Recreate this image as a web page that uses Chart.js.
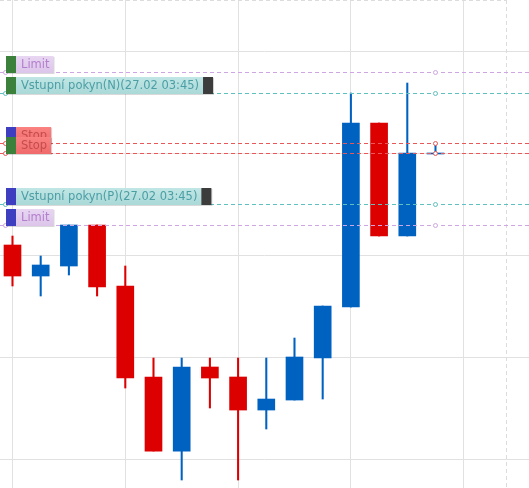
<!DOCTYPE html>
<html>
<head>
<meta charset="utf-8">
<script src="https://cdn.jsdelivr.net/npm/chart.js@4.4.1/dist/chart.umd.min.js"></script>
<style>
  html, body { margin: 0; padding: 0; background: #fff; overflow: hidden; }
  canvas { display: block; }
</style>
</head>
<body>
<canvas id="myChart" width="529" height="488"></canvas>
<script>
// candles (x = bar index)
const candles = [0, 1, 2, 3, 4, 5, 6, 7, 8, 9, 10, 11, 12, 13, 14, 15];
const opens  = [20.98, 17.94, 18.92, 22.94, 16.96, 8.04, 0.78, 9.02, 8.04, 4.80, 5.78, 9.90, 14.90, 32.94, 21.86, 30.00];
const highs  = [21.86, 19.90, 22.94, 22.94, 18.92, 9.90, 9.90, 9.90, 9.90, 9.90, 11.86, 15.00, 35.88, 32.94, 36.86, 30.88];
const lows   = [16.96, 15.98, 18.04, 15.98, 6.96, 0.78, -2.06, 5.00, -2.06, 2.94, 5.78, 5.88, 14.90, 21.86, 21.86, 30.00];
const closes = [17.94, 19.02, 22.94, 16.86, 7.94, 0.78, 9.02, 7.94, 4.80, 5.88, 10.00, 15.00, 32.94, 21.86, 30.00, 30.00];

// grid positions (no tick labels shown)
const xGridTicks = [0, 4, 8, 12, 16];
const yGridTicks = [0, 10, 20, 30, 40];

// pending orders drawn as horizontal lines
const orderLabels = ['Limit', 'Vstupní pokyn(N)(27.02 03:45)', 'Stop', 'Stop', 'Vstupní pokyn(P)(27.02 03:45)', 'Limit'];
const orderLevels = [37.94, 35.91, 30.95, 30.00, 24.97, 22.91];
const orderKinds  = ['limit', 'entry', 'stop', 'stop', 'entry', 'limit'];
const orderSides  = ['N', 'N', 'P', 'N', 'P', 'P'];

const RED = '#dc0000';
const BLUE = '#0062c0';

const kindStyle = {
  limit: { line: '#cfa6e4', bg1: '#e8d6f2', bg2: '#dcc5ea', text: '#b37fcc' },
  entry: { line: '#5ec1bf', bg1: '#c0e6e5', bg2: '#aad9d8', text: '#4c9ea5' },
  stop:  { line: '#e85858', bg1: '#fa8282', bg2: '#f06a6a', text: '#c44c4c' }
};
const sideColor = { N: '#3b813b', P: '#3e3ec0' };

const orderLinesPlugin = {
  id: 'orderLines',
  beforeDatasetsDraw(chart) {
    const { ctx, chartArea, scales } = chart;
    const xEdge = Math.round(scales.x.getPixelForValue(17.5)) + 0.5;
    ctx.save();
    ctx.strokeStyle = '#dcdcdc';
    ctx.lineWidth = 1;
    ctx.setLineDash([4, 3]);
    ctx.beginPath();
    ctx.moveTo(chartArea.left, chartArea.top + 0.5);
    ctx.lineTo(xEdge, chartArea.top + 0.5);
    ctx.moveTo(xEdge, chartArea.top);
    ctx.lineTo(xEdge, chartArea.bottom);
    ctx.stroke();
    ctx.restore();
  },
  afterDatasetsDraw(chart) {
    const { ctx, chartArea, scales } = chart;
    const handleX = scales.x.getPixelForValue(candles[candles.length - 1]);
    ctx.save();
    // lines
    orderLevels.forEach((lvl, i) => {
      const st = kindStyle[orderKinds[i]];
      const y = Math.round(scales.y.getPixelForValue(lvl)) + 0.5;
      ctx.setLineDash([4, 3]);
      ctx.strokeStyle = st.line;
      ctx.lineWidth = 1;
      ctx.beginPath();
      ctx.moveTo(chartArea.left, y);
      ctx.lineTo(chartArea.right, y);
      ctx.stroke();
      ctx.setLineDash([]);
      [5.5, handleX].forEach(cx => {
        ctx.beginPath();
        ctx.arc(cx, y, 2, 0, Math.PI * 2);
        ctx.fillStyle = '#fff';
        ctx.fill();
        ctx.stroke();
      });
    });
    // labels
    ctx.font = '11.5px "DejaVu Sans"';
    ctx.textBaseline = 'alphabetic';
    orderLevels.forEach((lvl, i) => {
      const st = kindStyle[orderKinds[i]];
      const y = Math.round(scales.y.getPixelForValue(lvl));
      const top = y - 16, h = 17, left = 6;
      const tx = left + 15;
      const tw = ctx.measureText(orderLabels[i]).width;
      const right = tx + tw + 4;
      const entry = orderKinds[i] === 'entry';
      const full = entry ? right + 10 : right;
      ctx.fillStyle = 'rgba(0,0,0,0.15)';
      ctx.fillRect(left + 1, top + 1, full - left, h);
      const g = ctx.createLinearGradient(0, top, 0, top + h);
      g.addColorStop(0, st.bg1);
      g.addColorStop(1, st.bg2);
      ctx.fillStyle = g;
      ctx.fillRect(left + 10, top, right - left - 10, h);
      ctx.fillStyle = sideColor[orderSides[i]];
      ctx.fillRect(left, top, 10, h);
      if (entry) {
        ctx.fillStyle = '#3c3c3c';
        ctx.fillRect(right, top, 10, h);
      }
      ctx.fillStyle = st.text;
      ctx.fillText(orderLabels[i], tx, y - 4);
    });
    ctx.restore();
  }
};

const bodyColors = candles.map((_, i) => closes[i] < opens[i] ? RED : BLUE);

const ctx = document.getElementById('myChart').getContext('2d');
const chart = new Chart(ctx, {
  type: 'bar',
  data: {
    datasets: [
      {
        label: 'body',
        data: candles.map((x, i) => ({ x: x, y: [opens[i], closes[i]] })),
        backgroundColor: bodyColors,
        barThickness: 17,
        minBarLength: 1,
        grouped: false,
        order: 0
      },
      {
        label: 'wick',
        data: candles.map((x, i) => ({ x: x, y: [lows[i], highs[i]] })),
        backgroundColor: bodyColors,
        barThickness: 1.4,
        grouped: false,
        order: 1
      }
    ]
  },
  options: {
    responsive: false,
    animation: false,
    devicePixelRatio: 1,
    layout: { padding: 0 },
    plugins: { legend: { display: false }, tooltip: { enabled: false } },
    scales: {
      x: {
        type: 'linear',
        min: -0.443,
        max: 18.316,
        offset: false,
        afterBuildTicks: s => { s.ticks = xGridTicks.map(v => ({ value: v })); },
        ticks: { display: false },
        grid: { drawTicks: false, offset: false, color: '#e1e1e1' },
        border: { display: false }
      },
      y: {
        min: -2.843,
        max: 45,
        afterBuildTicks: s => { s.ticks = yGridTicks.map(v => ({ value: v })); },
        ticks: { display: false },
        grid: { drawTicks: false, color: '#e1e1e1' },
        border: { display: false }
      }
    }
  },
  plugins: [orderLinesPlugin]
});
</script>
</body>
</html>
